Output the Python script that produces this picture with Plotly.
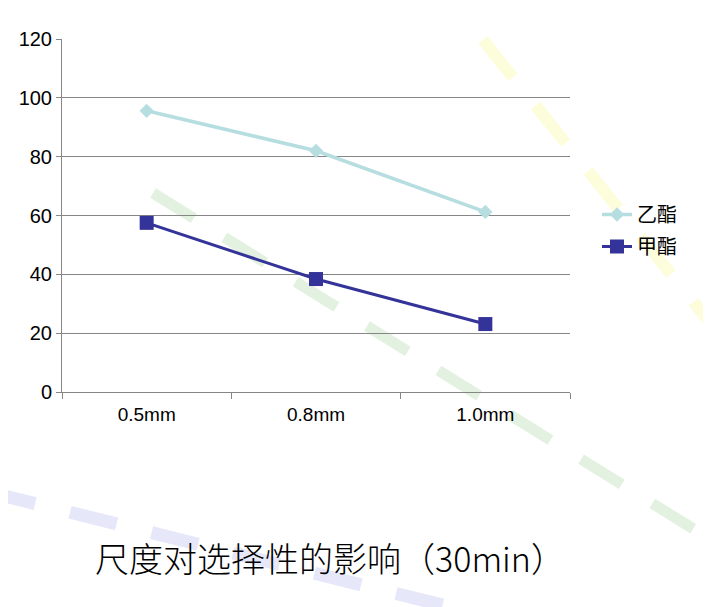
import plotly.graph_objects as go

categories = ["0.5mm", "0.8mm", "1.0mm"]
ethyl = [95.6, 82.0, 61.2]     # 乙酯
methyl = [57.5, 38.4, 23.1]    # 甲酯
y_ticks = [0, 20, 40, 60, 80, 100, 120]
title_text = "尺度对选择性的影响（30min）"

W, H = 711, 607
OFF = 8  # page body margin
L, R, T, B = 62 - OFF, 570 - OFF, 39 - OFF, 392 - OFF  # plot area pixels in figure


def px(x):
    return (x - OFF - L) / (R - L)


def py(y):
    return (B - (y - OFF)) / (B - T)


fig = go.Figure()
fig.add_trace(go.Scatter(
    x=categories, y=ethyl, name="乙酯", mode="lines+markers", legendgroup="a",
    line=dict(color="#b6dde0", width=3.5),
    marker=dict(symbol="diamond", size=11, color="#b6dde0"),
))
fig.add_trace(go.Scatter(
    x=categories, y=methyl, name="甲酯", mode="lines+markers", legendgroup="b",
    line=dict(color="#333399", width=3),
    marker=dict(symbol="square", size=14, color="#333399"),
))

# decorative background dashed stripes
stripes = [
    ((483, 40), (740, 360), "#fdfddc", 12),
    ((153, 193), (700, 533), "#e3f2e0", 11),
    ((-11.5, 492), (470, 612), "#e6e8fa", 13),
]
shapes = []
for (x0, y0), (x1, y1), col, w in stripes:
    shapes.append(dict(type="line", xref="paper", yref="paper",
                       x0=px(x0), y0=py(y0), x1=px(x1), y1=py(y1),
                       line=dict(color=col, width=w, dash="48px,36px"),
                       layer="below"))

fig.update_layout(
    width=W, height=H,
    margin=dict(l=L, r=W - R, t=T, b=H - B, pad=0),
    paper_bgcolor="white", plot_bgcolor="rgba(0,0,0,0)",
    shapes=shapes,
    font=dict(family="Liberation Sans, Arial, sans-serif", color="black"),
    legend=dict(x=px(597), y=py(195), xanchor="left", yanchor="top",
                bgcolor="rgba(0,0,0,0)",
                font=dict(size=20, family="Noto Sans CJK SC"),
                tracegroupgap=3),
    xaxis=dict(type="category", range=[-0.5, 2.5], tickson="boundaries",
               ticks="outside", ticklen=6, tickcolor="#868686",
               showline=True, linecolor="#868686", linewidth=1,
               showgrid=False, tickfont=dict(size=19), ticklabelstandoff=5,
               fixedrange=True),
    yaxis=dict(range=[0, 120], tickvals=y_ticks, ticks="outside", ticklen=5,
               tickcolor="#868686", showline=True, linecolor="#868686",
               gridcolor="#868686", gridwidth=1, zeroline=False,
               tickfont=dict(size=20), fixedrange=True),
    annotations=[dict(text=title_text, xref="paper", yref="paper",
                      x=px(330), y=py(557), xanchor="center", yanchor="middle",
                      showarrow=False,
                      font=dict(size=34, family="Noto Sans CJK SC",
                                weight=300, color="black"))],
)

fig.write_html("out.html")
